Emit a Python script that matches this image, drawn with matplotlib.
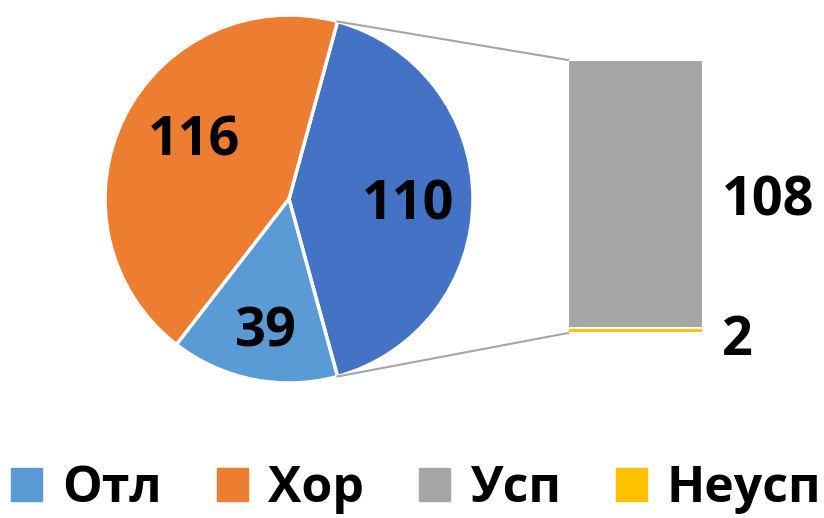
import numpy as np
import matplotlib
matplotlib.use("Agg")
import matplotlib.pyplot as plt
from matplotlib.patches import Patch

# --- data ---
pie_labels = ["Отл", "Хор"]
pie_values = [39, 116]
bar_labels = ["Усп", "Неусп"]
bar_values = [108, 2]

c_otl = "#5B9BD5"
c_hor = "#ED7D31"
c_usp = "#A5A5A5"
c_neusp = "#FFC000"
c_other = "#4472C4"

plt.rcParams["font.family"] = ["Open Sans", "DejaVu Sans"]
plt.rcParams["font.weight"] = "bold"

W, H = 824, 518
fig = plt.figure(figsize=(W / 100, H / 100), dpi=100)
ax = fig.add_axes([0, 0, 1, 1])

# pie: "other" wedge (sum of bar values) centred on the right
other = sum(bar_values)
vals = [other, pie_values[1], pie_values[0]]
cols = [c_other, c_hor, c_otl]
total = sum(vals)
start = -other / total * 180
cx, cy, R = 289, H - 199, 184
wedges, _ = ax.pie(vals, colors=cols, startangle=start, counterclock=True,
                   center=(cx, cy), radius=R, frame=True,
                   wedgeprops=dict(edgecolor="white", linewidth=2.5))
ax.set_xlim(0, W)
ax.set_ylim(0, H)
ax.set_aspect("equal")
ax.axis("off")

fs = 39
half_digit = 0.714 * fs * 100 / 72 / 2  # half of digit height in px

# label centres (pixels from top-left) for other, Хор, Отл, Усп, Неусп
pie_pos = [(408, 200), (194, 136), (266, 327)]
for (px, py), v in zip(pie_pos, vals):
    ax.text(px, H - py - half_digit, str(v), ha="center", va="baseline",
            fontsize=fs, fontweight="bold")

# stacked bar for the breakdown
bx, bw = 635.5, 135
btop, bbot = H - 60, H - 333
scale = (btop - bbot) / other
bottom = bbot
for v, c in zip(bar_values[::-1], [c_neusp, c_usp]):
    ax.bar(bx, v * scale, width=bw, bottom=bottom, color=c,
           edgecolor="white", linewidth=1.5)
    bottom += v * scale

# value labels right of the bar
for v, py in zip(bar_values, [196, 336]):
    ax.text(722, H - py - half_digit, str(v), ha="left", va="baseline",
            fontsize=fs, fontweight="bold")

# connector lines
w0 = wedges[0]
for th, yb in [(w0.theta2, btop), (w0.theta1, bbot)]:
    t = np.deg2rad(th)
    ax.plot([cx + R * np.cos(t), bx - bw / 2], [cy + R * np.sin(t), yb],
            color=c_usp, linewidth=1.5)

handles = [Patch(color=c) for c in [c_otl, c_hor, c_usp, c_neusp]]
ax.legend(handles, pie_labels + bar_labels, loc="center",
          bbox_to_anchor=(0.505, 1 - 489 / H), ncol=4, frameon=False,
          prop=dict(size=36, weight="bold"), handlelength=0.62,
          handleheight=0.62, handletextpad=0.4, columnspacing=1.1,
          borderaxespad=0)

fig.savefig("out.png", dpi=100)
